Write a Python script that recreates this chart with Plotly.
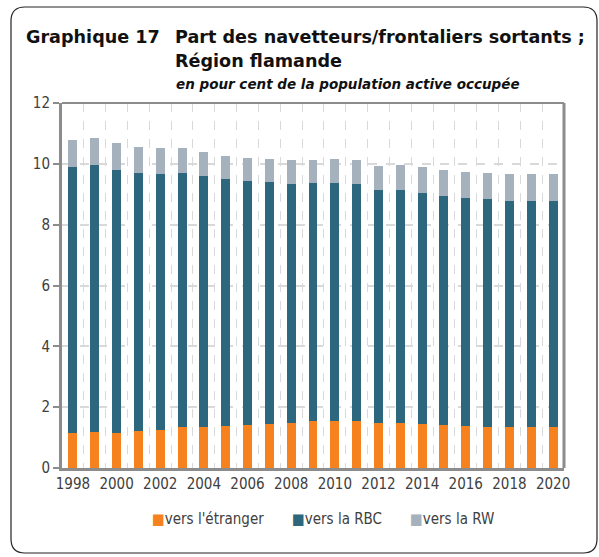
import plotly.graph_objects as go

# données (en % de la population active occupée)
annees = list(range(1998, 2021))
vers_etranger = [1.14, 1.20, 1.16, 1.22, 1.25, 1.35, 1.36, 1.37, 1.41, 1.45, 1.49, 1.56,
                 1.56, 1.54, 1.49, 1.48, 1.46, 1.41, 1.37, 1.35, 1.35, 1.34, 1.34]
vers_rbc = [8.77, 8.77, 8.64, 8.47, 8.43, 8.34, 8.23, 8.13, 8.02, 7.94, 7.84, 7.81,
            7.81, 7.80, 7.64, 7.66, 7.58, 7.52, 7.50, 7.48, 7.44, 7.44, 7.44]
vers_rw = [0.88, 0.87, 0.87, 0.85, 0.85, 0.84, 0.80, 0.76, 0.76, 0.76, 0.78, 0.75,
           0.78, 0.78, 0.79, 0.82, 0.84, 0.86, 0.87, 0.86, 0.87, 0.88, 0.87]
ticks_x = list(range(1998, 2021, 2))
ticks_y = [0, 2, 4, 6, 8, 10, 12]

FONT = "DejaVu Sans Condensed"
FONT_TITRE = "DejaVu Sans"
GRIS_AXE = "#8c8c8c"

series = [
    ("vers l'étranger", vers_etranger, "#F5821F"),
    ("vers la RBC", vers_rbc, "#2D677D"),
    ("vers la RW", vers_rw, "#A6B1BE"),
]

fig = go.Figure()
for nom, vals, couleur in series:
    fig.add_trace(go.Bar(x=annees, y=vals, name=nom, marker=dict(color=couleur, line=dict(width=0)),
                         width=0.41))

fig.update_layout(
    barmode="stack",
    width=599, height=557,
    margin=dict(l=62, r=35, t=103, b=89),
    paper_bgcolor="white", plot_bgcolor="white",
    font=dict(family=FONT, size=15, color="#404040"),
    showlegend=False,
)

fig.update_xaxes(
    range=[1997.5, 2020.5], tickvals=ticks_x, ticktext=[str(a) for a in ticks_x],
    showgrid=False, showline=True, linecolor=GRIS_AXE, linewidth=3, ticks="",
    minor=dict(tick0=1997.5, dtick=1, showgrid=True, griddash="dash", gridcolor="#d9d9d9", gridwidth=1),
    zeroline=False,
)
fig.update_yaxes(
    range=[0, 12], tickvals=ticks_y, showgrid=True, griddash="dash", gridcolor="#d9d9d9", gridwidth=1.5,
    showline=True, linecolor=GRIS_AXE, linewidth=3, ticks="outside", ticklen=6, tickwidth=2,
    tickcolor=GRIS_AXE, zeroline=False,
)

# cadre haut et droit
fig.add_shape(type="line", xref="paper", yref="paper", x0=0, x1=1, y0=1, y1=1,
              line=dict(color=GRIS_AXE, width=2))
fig.add_shape(type="line", xref="paper", yref="paper", x0=1, x1=1, y0=0, y1=1,
              line=dict(color=GRIS_AXE, width=3))

# conversion pixels -> coordonnées papier
def px(x):
    return (x - 62) / 502

def py(y):
    return (468 - y) / 365

# cadre arrondi extérieur
r = 14
x0, x1, y0, y1 = 11, 597, 7, 553
chemin = (f"M {px(x0 + r)},{py(y0)} L {px(x1 - r)},{py(y0)} Q {px(x1)},{py(y0)} {px(x1)},{py(y0 + r)} "
          f"L {px(x1)},{py(y1 - r)} Q {px(x1)},{py(y1)} {px(x1 - r)},{py(y1)} "
          f"L {px(x0 + r)},{py(y1)} Q {px(x0)},{py(y1)} {px(x0)},{py(y1 - r)} "
          f"L {px(x0)},{py(y0 + r)} Q {px(x0)},{py(y0)} {px(x0 + r)},{py(y0)} Z")
fig.add_shape(type="path", xref="paper", yref="paper", path=chemin,
              line=dict(color="#222222", width=1.2), layer="below")

# titres
fig.add_annotation(xref="paper", yref="paper", x=px(24), y=py(37), xanchor="left", yanchor="middle",
                   text="<b>Graphique 17</b>", showarrow=False,
                   font=dict(family=FONT_TITRE, size=17.6, color="#111111"))
fig.add_annotation(xref="paper", yref="paper", x=px(173), y=py(37), xanchor="left", yanchor="middle",
                   text="<b>Part des navetteurs/frontaliers sortants ;</b>", showarrow=False,
                   font=dict(family=FONT_TITRE, size=17.6, color="#111111"))
fig.add_annotation(xref="paper", yref="paper", x=px(173), y=py(61), xanchor="left", yanchor="middle",
                   text="<b>Région flamande</b>", showarrow=False,
                   font=dict(family=FONT_TITRE, size=17.6, color="#111111"))
fig.add_annotation(xref="paper", yref="paper", x=px(174), y=py(84), xanchor="left", yanchor="middle",
                   text="<b><i>en pour cent de la population active occupée</i></b>", showarrow=False,
                   font=dict(family=FONT_TITRE, size=13.5, color="#111111"))

# légende
for (nom, _, couleur), xl in zip(series, [150, 290, 408]):
    fig.add_annotation(xref="paper", yref="paper", x=px(xl), y=py(519), xanchor="left", yanchor="middle",
                       text=f"<span style='color:{couleur}'>■</span>{nom}", showarrow=False,
                       font=dict(family=FONT, size=15, color="#404040"))

fig.write_html("out.html", config={"displayModeBar": False},
               post_script="document.body.style.margin='0';")
